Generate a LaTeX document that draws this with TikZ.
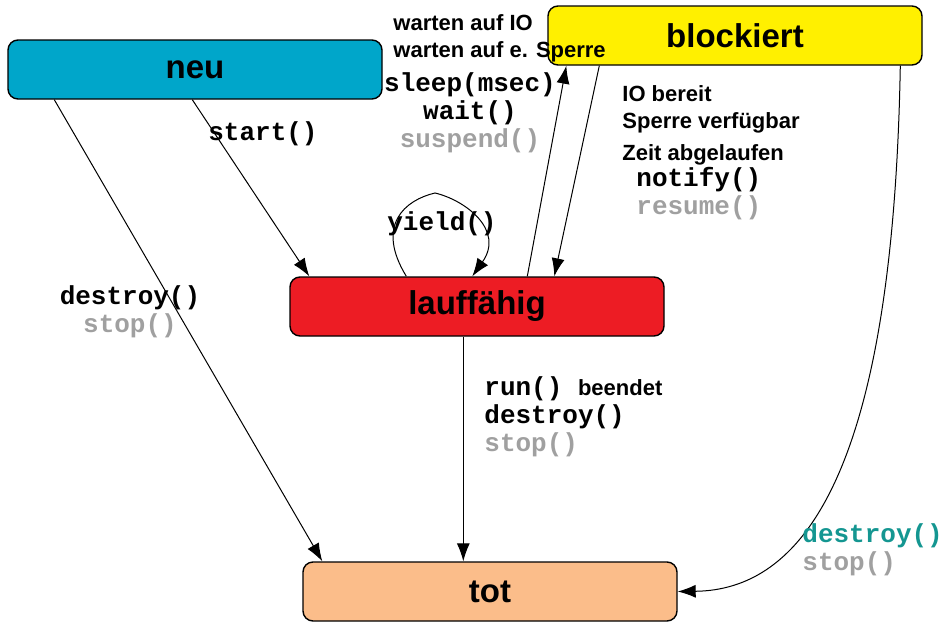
\documentclass[tikz,border=0pt]{standalone}
\usepackage{fontspec}
\setmainfont{Liberation Sans}
\setmonofont{Liberation Mono}
\usepackage{tikz}
\usetikzlibrary{arrows.meta}
\usetikzlibrary{calc}
\definecolor{neuColor}{RGB}{0,166,202}
\definecolor{blockColor}{RGB}{255,240,0}
\definecolor{laufColor}{RGB}{237,28,36}
\definecolor{totColor}{RGB}{251,189,138}
\definecolor{oldCall}{RGB}{160,160,160}
\definecolor{newCall}{RGB}{20,150,145}
\tikzset{
  % node options
  state/.style={rectangle,draw,rounded corners=5pt,line width=0.7pt,
    minimum width=187pt,minimum height=29.5pt,
    font=\bfseries\fontsize{16.5}{20}\selectfont},
  cause/.style={inner sep=0pt,font=\bfseries\fontsize{11}{13.5}\selectfont},
  call/.style={inner sep=0pt,font=\ttfamily\bfseries\fontsize{13}{14}\selectfont},
  % path options
  transition/.style={-{Latex[length=9pt,width=6.5pt]},line width=0.5pt},
}
\newcommand{\sans}[1]{{\rmfamily\bfseries\fontsize{11}{14}\selectfont #1}}
\begin{document}
\begin{tikzpicture}[x=0.5pt,y=-0.5pt]
    \useasboundingbox (0,0) rectangle (942,621);
    \node[state,fill=neuColor] (neu) at (195,69.5) {neu};
    \node[state,fill=blockColor] (block) at (735,35.5) {blockiert};
    \node[state,fill=laufColor] (lauf) at (477,306.5) {lauffähig};
    \node[state,fill=totColor] (tot) at (490,591.5) {tot};

    \draw[transition] ($(neu.south west)+(47,0)$) -- ($(tot.north west)+(20,0)$);
    \draw[transition] ($(neu.south west)+(185,0)$) -- ($(lauf.north west)+(20,0)$);
    \draw[transition] ($(lauf.north west)+(117,0)$) .. controls (375,225) and (405,200) .. (435,193)
      .. controls (465,200) and (505,230) .. ($(lauf.north west)+(183,0)$);
    \draw[transition] ($(lauf.north west)+(238,0)$) -- ($(block.south west)+(19,0)$);
    \draw[transition] ($(block.south west)+(52,0)$) -- ($(lauf.north west)+(265,0)$);
    \draw[transition] ($(lauf.south west)+(174,0)$) -- ($(tot.north west)+(161,0)$);
    \draw[transition] ($(block.south west)+(353,0)$) .. controls (893,480) and (800,590) .. (tot.east);

    \node[cause,anchor=west] (waitIO) at (393,23) {warten auf IO};
    \node[cause,anchor=west] (waitLock) at (393,52) {warten auf e. Sperre};
    \node[call,align=center,anchor=north] (toBlock) at (470,72) {sleep(msec)\\wait()\\\textcolor{oldCall}{suspend()}};
    \node[cause,anchor=north west,align=left] (wakeUp) at (622,85) {IO bereit\\Sperre verfügbar\\[2.5pt]Zeit abgelaufen};
    \node[call,anchor=north west,align=left] (toLauf) at (636,167) {notify()\\\textcolor{oldCall}{resume()}};
    \node[call] (start) at (263,134) {start()};
    \node[call] (yield) at (442,224) {yield()};
    \node[call,align=center,anchor=north] (killNeu) at (130,285) {destroy()\\\textcolor{oldCall}{stop()}};
    \node[call,align=left,anchor=north west] (killLauf) at (484,376) {run() \sans{beendet}\\destroy()\\\textcolor{oldCall}{stop()}};
    \node[call,align=left,anchor=north west] (killBlock) at (802,523) {\textcolor{newCall}{destroy()}\\\textcolor{oldCall}{stop()}};
\end{tikzpicture}
\end{document}
